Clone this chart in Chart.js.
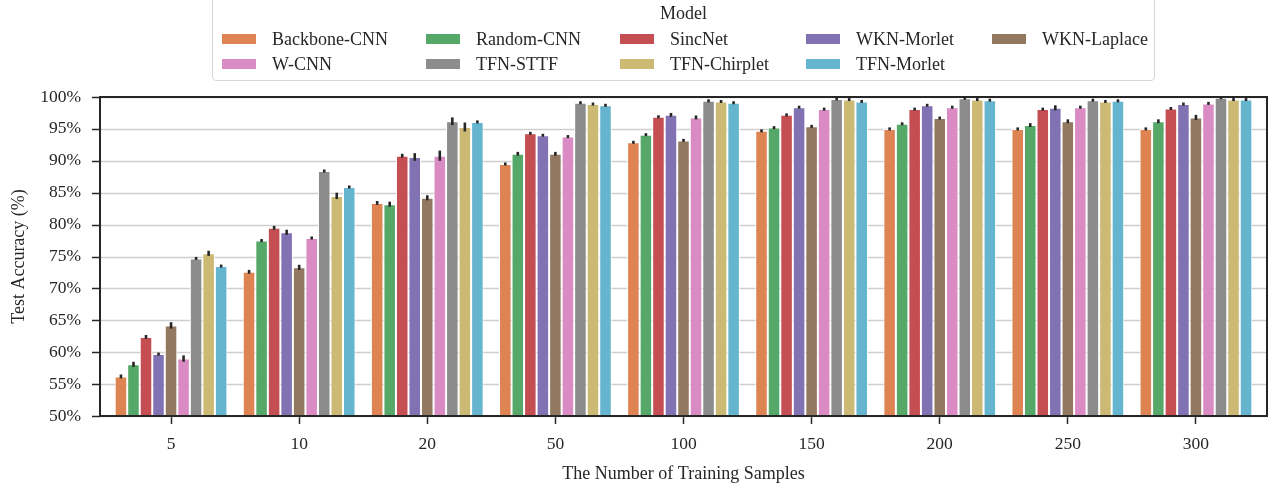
<!DOCTYPE html>
<html>
<head>
<meta charset="utf-8">
<script src="https://cdn.jsdelivr.net/npm/chart.js@4.4.0/dist/chart.umd.min.js"></script>
<style>
  html, body { margin: 0; padding: 0; background: #fff; }
  #wrap { position: relative; width: 1276px; height: 486px; font-family: "Liberation Serif", "DejaVu Serif", serif; }
  #legend {
    position: absolute; left: 212px; top: -6px; width: 943px; height: 87px;
    border: 1.5px solid #d6d6d6; border-radius: 4px; background: #fff; box-sizing: border-box;
  }
  #legend .title { position: absolute; top: 8px; left: 0; width: 100%; text-align: center; font-size: 18px; line-height: 20px; color: #262626; }
  #legend .item { position: absolute; font-size: 18px; color: #262626; line-height: 20px; white-space: nowrap; }
  #legend .sw { position: absolute; left: 0; top: 5px; width: 34px; height: 10px; }
  #legend .tx { position: absolute; left: 50px; top: 0; }
</style>
</head>
<body>
<div id="wrap">
  <canvas id="chart" width="1276" height="486"></canvas>
  <div id="legend"><div class="title">Model</div></div>
</div>
<script>
// categories on the x axis
const samples = ["5", "10", "20", "50", "100", "150", "200", "250", "300"];

// model names and colours (seaborn muted)
const models = ["Backbone-CNN", "Random-CNN", "SincNet", "WKN-Morlet", "WKN-Laplace",
                "W-CNN", "TFN-STTF", "TFN-Chirplet", "TFN-Morlet"];
const colors = ["#dd8452", "#55a868", "#c44e52", "#8172b3", "#937860",
                "#da8bc3", "#8c8c8c", "#ccb974", "#64b5cd"];

// mean test accuracy (%) per model, one value per sample count
const backboneCNN = [56.2, 72.6, 83.4, 89.5, 92.9, 94.7, 95.0, 95.0, 95.0];
const randomCNN   = [58.1, 77.5, 83.2, 91.1, 94.1, 95.2, 95.8, 95.6, 96.2];
const sincNet     = [62.4, 79.5, 90.8, 94.3, 96.9, 97.2, 98.1, 98.1, 98.2];
const wknMorlet   = [59.7, 78.8, 90.6, 94.0, 97.2, 98.4, 98.7, 98.3, 98.9];
const wknLaplace  = [64.2, 73.3, 84.2, 91.1, 93.2, 95.4, 96.7, 96.2, 96.8];
const wCNN        = [59.0, 77.9, 90.8, 93.8, 96.8, 98.1, 98.4, 98.4, 99.0];
const tfnSTTF     = [74.7, 88.4, 96.2, 99.1, 99.4, 99.7, 99.8, 99.5, 99.9];
const tfnChirplet = [75.5, 84.5, 95.3, 98.9, 99.3, 99.6, 99.6, 99.3, 99.6];
const tfnMorlet   = [73.5, 85.9, 96.1, 98.7, 99.1, 99.3, 99.5, 99.4, 99.6];

// half-length of the error bars (%)
const backboneErr = [0.3, 0.3, 0.3, 0.1, 0.2, 0.1, 0.1, 0.1, 0.1];
const randomErr   = [0.4, 0.2, 0.4, 0.3, 0.1, 0.1, 0.2, 0.3, 0.3];
const sincErr     = [0.3, 0.3, 0.3, 0.1, 0.05, 0.1, 0.1, 0.1, 0.1];
const wknMorErr   = [0.1, 0.4, 0.6, 0.1, 0.3, 0.1, 0.1, 0.4, 0.1];
const wknLapErr   = [0.5, 0.4, 0.4, 0.3, 0.2, 0.1, 0.1, 0.3, 0.4];
const wcnnErr     = [0.5, 0.2, 0.8, 0.2, 0.3, 0.1, 0.1, 0.1, 0.1];
const sttfErr     = [0.2, 0.2, 0.6, 0.1, 0.1, 0.1, 0.05, 0.05, 0.05];
const chirpErr    = [0.4, 0.5, 0.7, 0.2, 0.1, 0.1, 0.05, 0.1, 0.05];
const morletErr   = [0.2, 0.2, 0.1, 0.1, 0.1, 0.1, 0.05, 0.1, 0.05];

const values = [backboneCNN, randomCNN, sincNet, wknMorlet, wknLaplace, wCNN, tfnSTTF, tfnChirplet, tfnMorlet];
const errors = [backboneErr, randomErr, sincErr, wknMorErr, wknLapErr, wcnnErr, sttfErr, chirpErr, morletErr];

const yTicks = [50, 55, 60, 65, 70, 75, 80, 85, 90, 95, 100];

const FONT = "'Liberation Serif', 'DejaVu Serif', serif";
const INK = "#262626";
const MARGIN = 7; // gap between spines and outer categories (matplotlib x margin)

// html legend, matplotlib style columns
const colX = [9, 213, 407, 593, 779];
const rowY = [34, 59];
const legendEl = document.getElementById("legend");
models.forEach((name, i) => {
    const item = document.createElement("div");
    item.className = "item";
    item.style.left = colX[i % 5] + "px";
    item.style.top = rowY[Math.floor(i / 5)] + "px";
    item.innerHTML = `<span class="sw" style="background:${colors[i]}"></span><span class="tx">${name}</span>`;
    legendEl.appendChild(item);
});

// grid lines behind the bars, stretched to the spines
const gridBehind = {
    id: "gridBehind",
    beforeDatasetsDraw(chart) {
        const ctx = chart.ctx, a = chart.chartArea, y = chart.scales.y;
        const l = a.left - MARGIN, r = a.right + MARGIN;
        ctx.save();
        y.ticks.forEach(t => {
            const py = Math.round(y.getPixelForValue(t.value)) + 0.5;
            ctx.strokeStyle = "#cfcfcf";
            ctx.lineWidth = 1.5;
            ctx.beginPath(); ctx.moveTo(l, py); ctx.lineTo(r, py); ctx.stroke();
            ctx.strokeStyle = INK;
            ctx.lineWidth = 1.5;
            ctx.beginPath(); ctx.moveTo(l - 8, py); ctx.lineTo(l, py); ctx.stroke();
        });
        ctx.restore();
    }
};

// error bars + frame
const extras = {
    id: "extras",
    afterDatasetsDraw(chart) {
        const ctx = chart.ctx;
        const y = chart.scales.y;
        ctx.save();
        ctx.strokeStyle = INK;
        ctx.lineWidth = 2.6;
        chart.data.datasets.forEach((ds, i) => {
            const meta = chart.getDatasetMeta(i);
            meta.data.forEach((bar, j) => {
                const v = ds.data[j], e = errors[i][j];
                const y1 = Math.max(y.getPixelForValue(v - e), y.getPixelForValue(v) + 1.5);
                const y2 = Math.min(y.getPixelForValue(v + e), y.getPixelForValue(v) - 1.5);
                ctx.beginPath();
                ctx.moveTo(bar.x, y1);
                ctx.lineTo(bar.x, y2);
                ctx.stroke();
            });
        });
        const a = chart.chartArea;
        ctx.lineWidth = 2;
        ctx.strokeRect(a.left - MARGIN, a.top, a.right - a.left + 2 * MARGIN, a.bottom - a.top);
        ctx.restore();
    }
};

new Chart(document.getElementById("chart"), {
    type: "bar",
    data: {
        labels: samples,
        datasets: models.map((m, i) => ({
            label: m,
            data: values[i],
            backgroundColor: colors[i],
            borderColor: "#ffffff",
            borderWidth: 1,
            barPercentage: 1.0,
            categoryPercentage: 0.88
        }))
    },
    options: {
        responsive: false,
        animation: false,
        layout: { padding: { top: 97, right: 16, left: 0, bottom: 0 } },
        plugins: { legend: { display: false }, tooltip: { enabled: false } },
        scales: {
            x: {
                grid: { display: true, drawOnChartArea: false, offset: false, tickLength: 8, tickColor: INK, tickWidth: 1.5 },
                border: { display: false },
                ticks: { color: INK, font: { family: FONT, size: 17.5 }, padding: 10 },
                title: { display: true, text: "The Number of Training Samples", color: INK, font: { family: FONT, size: 18 }, padding: { top: 0, bottom: 1 } },
                afterFit(scale) { scale.height = 70; }
            },
            y: {
                min: 50, max: 100,
                afterBuildTicks(scale) { scale.ticks = yTicks.map(v => ({ value: v })); },
                grid: { display: false, drawTicks: false },
                border: { display: false },
                ticks: { color: INK, font: { family: FONT, size: 17.5 }, padding: 26, callback: v => v + "%" },
                title: { display: true, text: "Test Accuracy (%)", color: INK, font: { family: FONT, size: 18 }, padding: { top: 8, bottom: 0 } },
                afterFit(scale) { scale.width = 107; }
            }
        }
    },
    plugins: [gridBehind, extras]
});
</script>
</body>
</html>
